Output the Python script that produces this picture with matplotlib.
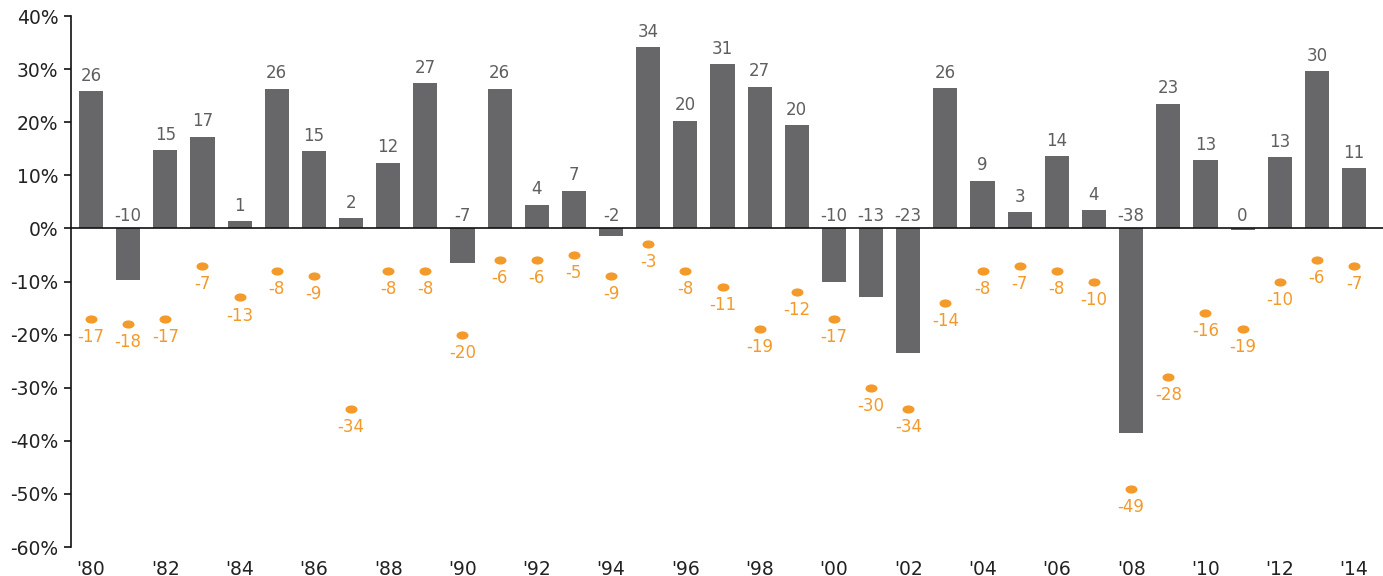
import matplotlib
matplotlib.use("Agg")
import matplotlib.pyplot as plt
from matplotlib.path import Path
import matplotlib.transforms as mtransforms
import numpy as np

years = list(range(1980, 2015))
annual_returns = [25.8, -9.7, 14.8, 17.3, 1.4, 26.3, 14.6, 2.0, 12.4, 27.3,
                  -6.6, 26.3, 4.5, 7.1, -1.5, 34.1, 20.3, 31.0, 26.7, 19.5,
                  -10.1, -13.0, -23.4, 26.4, 9.0, 3.0, 13.6, 3.5, -38.5, 23.5,
                  12.8, -0.3, 13.4, 29.6, 11.4]
return_labels = [26, -10, 15, 17, 1, 26, 15, 2, 12, 27,
                 -7, 26, 4, 7, -2, 34, 20, 31, 27, 20,
                 -10, -13, -23, 26, 9, 3, 14, 4, -38, 23,
                 13, 0, 13, 30, 11]
intra_year_declines = [-17, -18, -17, -7, -13, -8, -9, -34, -8, -8,
                       -20, -6, -6, -5, -9, -3, -8, -11, -19, -12,
                       -17, -30, -34, -14, -8, -7, -8, -10, -49, -28,
                       -16, -19, -10, -6, -7]
xtick_years = list(range(1980, 2015, 2))
xtick_labels = ["'%02d" % (y % 100) for y in xtick_years]
yticks = list(range(-60, 41, 10))
ytick_labels = ["%d%%" % v for v in yticks]

bar_color = "#676769"
orange = "#F39A2B"
label_gray = "#5f5f61"
axis_text = "#222222"

fig = plt.figure(figsize=(13.83, 5.76), dpi=100)
ax = fig.add_axes([0.0513, 0.0503, 0.9487, 0.9219])

ax.bar(years, annual_returns, width=0.65, color=bar_color, zorder=2)

# elliptical marker
circ = Path.unit_circle()
ell = circ.transformed(mtransforms.Affine2D().scale(1.0, 0.68))
ax.scatter(years, intra_year_declines, marker=ell, s=75, color=orange,
           zorder=3, linewidths=0)

for x, v, lab in zip(years, annual_returns, return_labels):
    if v >= 0:
        ax.annotate(str(lab), (x, v), xytext=(0, 11), textcoords="offset points",
                    ha="center", va="center", fontsize=12, color=label_gray)
    else:
        ax.annotate(str(lab), (x, 0), xytext=(0, 9), textcoords="offset points",
                    ha="center", va="center", fontsize=12, color=label_gray)

for x, v in zip(years, intra_year_declines):
    ax.annotate(str(v), (x, v), xytext=(0, -13), textcoords="offset points",
                ha="center", va="center", fontsize=12, color=orange)

ax.axhline(0, color="#111111", lw=1.2, zorder=4)

ax.set_xlim(1979.46, 2014.78)
ax.set_ylim(-60, 40)
ax.set_yticks(yticks)
ax.set_yticklabels(ytick_labels, fontsize=13.5, color=axis_text)
ax.set_xticks(xtick_years)
ax.set_xticklabels(xtick_labels, fontsize=13.5, color=axis_text)
ax.tick_params(axis="x", length=0, pad=9)
ax.tick_params(axis="y", length=5, width=1.2, pad=4, color="#111111")

for s in ["top", "right", "bottom"]:
    ax.spines[s].set_visible(False)
ax.spines["left"].set_linewidth(1.2)
ax.spines["left"].set_color("#111111")

fig.savefig("out.png", dpi=100)
